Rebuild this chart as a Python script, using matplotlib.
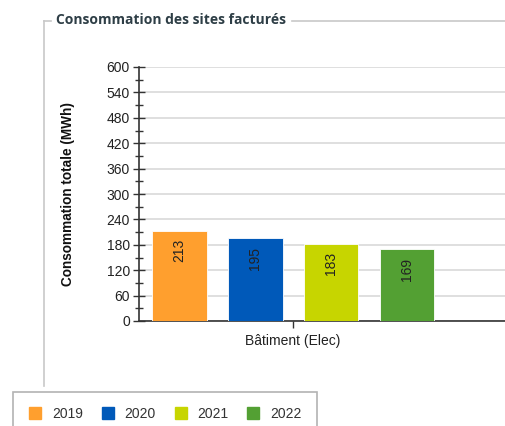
import numpy as np
import matplotlib.pyplot as plt
from matplotlib.lines import Line2D

# data
years = ['2019', '2020', '2021', '2022']
values = [213, 195, 183, 169]
colors = ['#FF9F2E', '#0059B9', '#C7D500', '#53A033']
category = 'Bâtiment (Elec)'

W, H = 505, 426
plt.rcParams['font.family'] = ['Liberation Sans', 'DejaVu Sans']

fig = plt.figure(figsize=(W / 100, H / 100), dpi=100)

# plot area in pixels
left, right, top, bottom = 139, 505, 67, 321
ax = fig.add_axes([left / W, 1 - bottom / H, (right - left) / W, (bottom - top) / H])

pos = np.arange(len(values)) - (len(values) - 1) / 2
ax.bar(pos, values, width=0.72, color=colors, edgecolor='white', linewidth=0.6, zorder=3)
for x, v in zip(pos, values):
    ax.annotate(str(v), (x, v), xytext=(0, -6), textcoords='offset points',
                rotation=90, ha='center', va='top', fontsize=10, color='#222222', zorder=4)

ax.set_ylim(0, 600)
ax.set_xlim(-2.03, 2.79)
ax.set_yticks(np.arange(0, 601, 60))
ax.set_yticks(np.arange(30, 600, 60), minor=True)
ax.set_xticks([0])
ax.set_xticklabels([category])
ax.grid(axis='y', color='#d9d9d9', linewidth=1.2, zorder=0)
ax.tick_params(axis='y', which='major', direction='inout', length=9, width=1, color='#333333',
               labelsize=10, labelcolor='#222222', pad=2)
ax.tick_params(axis='y', which='minor', direction='inout', length=6, width=1, color='#333333')
ax.tick_params(axis='x', length=5, width=1, color='#333333', labelsize=10, labelcolor='#222222', pad=4)
for s in ['top', 'right']:
    ax.spines[s].set_visible(False)
ax.spines['left'].set_color('#333333')
ax.spines['bottom'].set_color('#333333')
ax.spines['left'].set_linewidth(1.2)
ax.spines['bottom'].set_linewidth(1.2)

ax.set_ylabel('Consommation totale (MWh)', fontsize=9.8, fontweight='bold', color='#111111')
ax.yaxis.set_label_coords((75 - left) / (right - left), 0.5)

# fieldset frame and title
fc = '#c8c8c8'
fy = 1 - 20.5 / H
fig.add_artist(Line2D([44 / W, 44 / W], [fy, 1 - 386 / H], color=fc, linewidth=1.2))
fig.add_artist(Line2D([44 / W, 51 / W], [fy, fy], color=fc, linewidth=1.2))
fig.add_artist(Line2D([292 / W, 1], [fy, fy], color=fc, linewidth=1.2))
fig.text(56 / W, 1 - 20 / H, 'Consommation des sites facturés', fontsize=10, fontweight='bold',
         color='#2e3e46', va='center', ha='left', family=['Open Sans', 'DejaVu Sans'])

# legend
handles = [Line2D([], [], marker='s', linestyle='none', markersize=8, color=c) for c in colors]
leg = fig.legend(handles, years, ncol=4, loc='upper left', bbox_to_anchor=(13 / W, 1 - 392 / H),
                 borderaxespad=0, frameon=True, fancybox=False, fontsize=10, handletextpad=0.7,
                 columnspacing=1.3, borderpad=1.1, handlelength=1.0)
leg.get_frame().set_edgecolor('#a0a0a0')
leg.get_frame().set_linewidth(1.2)
for t in leg.get_texts():
    t.set_color('#333333')

fig.savefig('out.png', dpi=100)
